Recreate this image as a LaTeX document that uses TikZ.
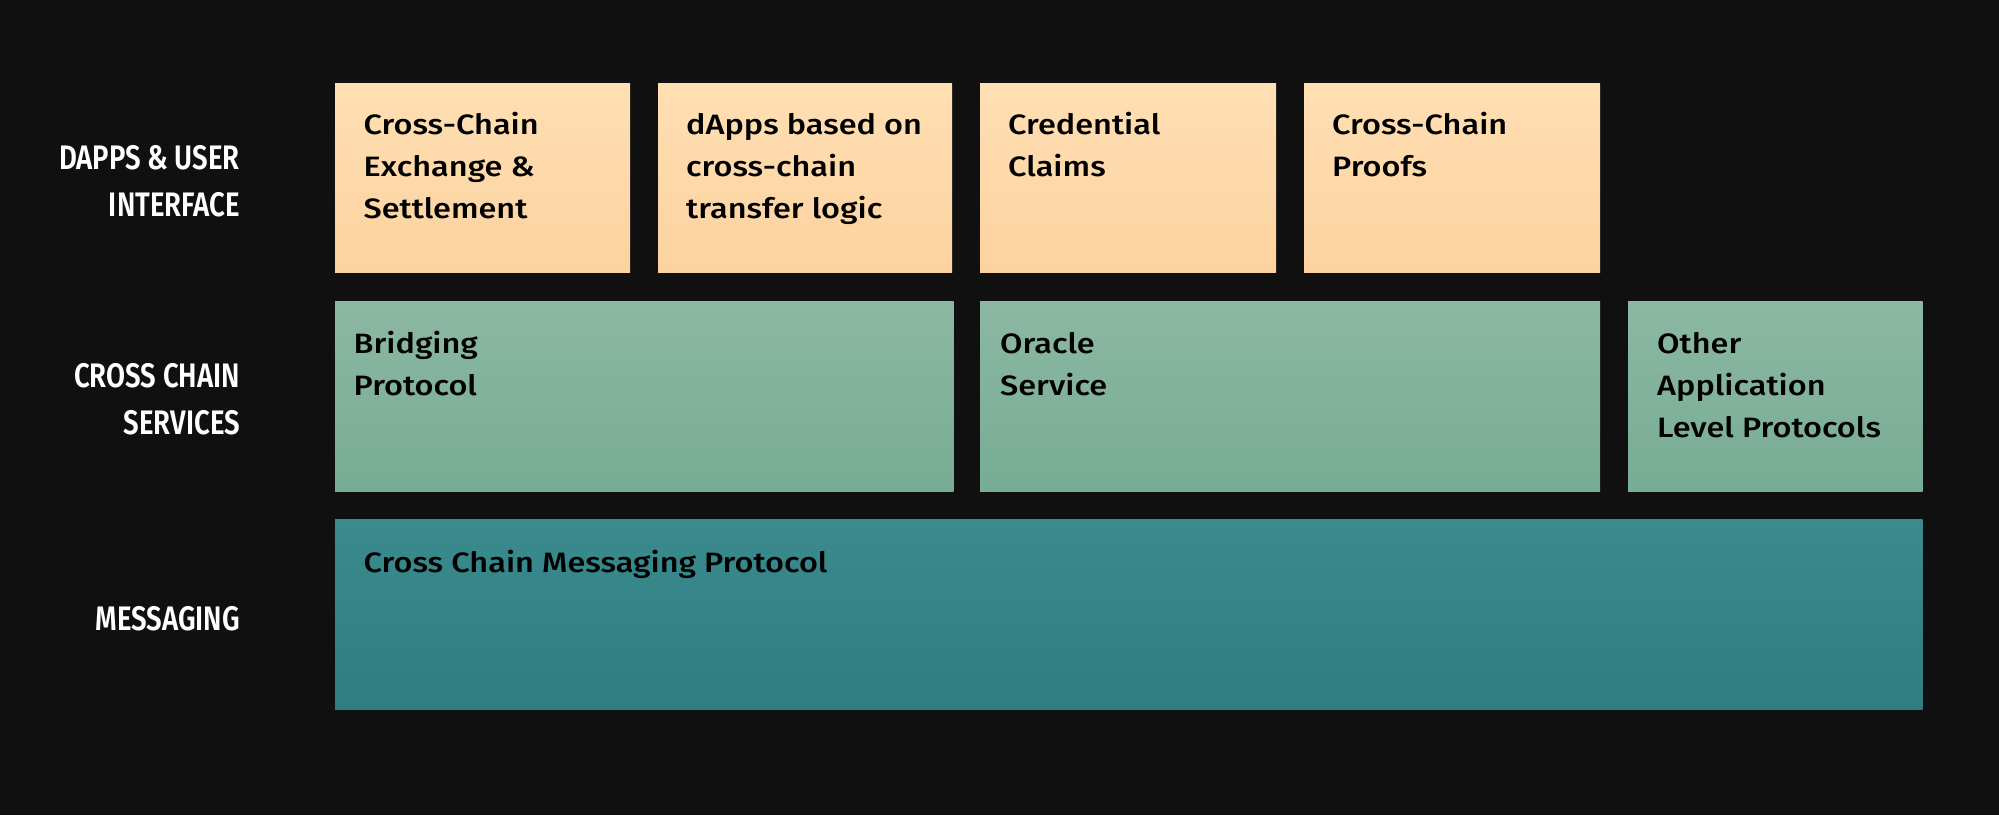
\documentclass[tikz,border=0pt]{standalone}
\usepackage{fontspec}
\setmainfont{Fira Sans}[UprightFont=* Medium, BoldFont=* SemiBold, FakeStretch=1.16]
\newfontfamily\lblfont{Fira Sans}[UprightFont=* SemiBold, FakeStretch=0.81]
\definecolor{bg}{HTML}{101010}
\definecolor{peachT}{HTML}{FFDFB3}
\definecolor{peachB}{HTML}{FCD2A0}
\definecolor{sageT}{HTML}{8BB8A3}
\definecolor{sageB}{HTML}{78AC94}
\definecolor{tealT}{HTML}{3B8A8E}
\definecolor{tealB}{HTML}{2E7E80}
\tikzset{
  box/.style={rectangle, inner sep=0pt, anchor=south west, draw=none},
  appbox/.style={box, top color=peachT, bottom color=peachB},
  svcbox/.style={box, top color=sageT, bottom color=sageB},
  msgbox/.style={box, top color=tealT, bottom color=tealB},
  boxtext/.style={inner sep=0pt, anchor=base west, align=left, text=black,
    font=\fontsize{28}{42}\selectfont},
  layerlabel/.style={inner sep=0pt, anchor=base east, align=right, text=white,
    font=\lblfont\fontsize{34}{46.5}\selectfont},
}
\begin{document}
\begin{tikzpicture}[x=1pt,y=1pt]
\fill[bg] (0,0) rectangle (1999,815);
\useasboundingbox (0,0) rectangle (1999,815);
% top row
\node[appbox, minimum width=295pt, minimum height=189pt] (a1) at (335,542) {};
\node[appbox, minimum width=294pt, minimum height=189pt] (a2) at (658,542) {};
\node[appbox, minimum width=296pt, minimum height=189pt] (a3) at (980,542) {};
\node[appbox, minimum width=296pt, minimum height=189pt] (a4) at (1304,542) {};
% middle row
\node[svcbox, minimum width=618.5pt, minimum height=190pt] (b1) at (335,323) {};
\node[svcbox, minimum width=620pt, minimum height=190pt] (b2) at (980,323) {};
\node[svcbox, minimum width=294.5pt, minimum height=190pt] (b3) at (1628,323) {};
% bottom row
\node[msgbox, minimum width=1587.5pt, minimum height=190pt] (c1) at (335,105) {};
% texts (anchor = baseline of last line)
\node[boxtext] (ta1) at ([xshift=28.5pt,yshift=-135pt]a1.north west) {Cross-Chain\\Exchange \&\\Settlement};
\node[boxtext] (ta2) at ([xshift=28pt,yshift=-135pt]a2.north west) {dApps based on\\cross-chain\\transfer logic};
\node[boxtext] (ta3) at ([xshift=28pt,yshift=-93pt]a3.north west) {Credential\\Claims};
\node[boxtext] (ta4) at ([xshift=28pt,yshift=-93pt]a4.north west) {Cross-Chain\\Proofs};
\node[boxtext] (tb1) at ([xshift=18.5pt,yshift=-94pt]b1.north west) {Bridging\\Protocol};
\node[boxtext] (tb2) at ([xshift=20pt,yshift=-94pt]b2.north west) {Oracle\\Service};
\node[boxtext] (tb3) at ([xshift=29pt,yshift=-136pt]b3.north west) {Other\\Application\\Level Protocols};
\node[boxtext] (tc1) at ([xshift=28.5pt,yshift=-53pt]c1.north west) {Cross Chain Messaging Protocol};
% layer labels (anchor = baseline of last line)
\node[layerlabel] (l1) at (240,598.5) {DAPPS \& USER\\INTERFACE};
\node[layerlabel] (l2) at (240,381) {CROSS CHAIN\\SERVICES};
\node[layerlabel] (l3) at (240,185) {MESSAGING};
\end{tikzpicture}
\end{document}
